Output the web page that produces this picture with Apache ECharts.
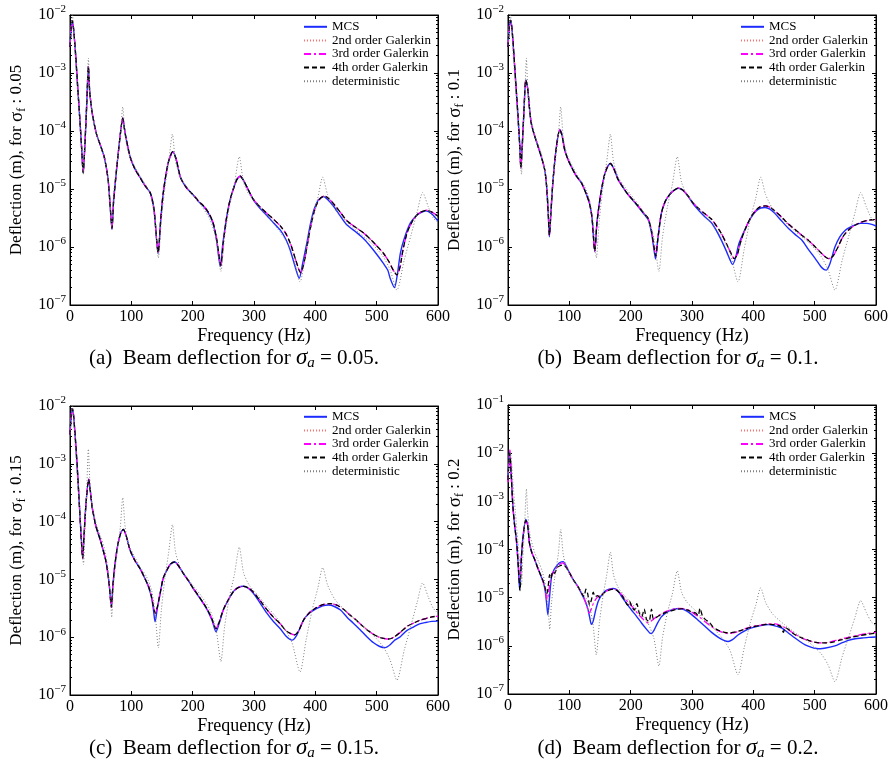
<!DOCTYPE html>
<html>
<head>
<meta charset="utf-8">
<script src="https://cdn.jsdelivr.net/npm/echarts@6/dist/echarts.min.js"></script>
<style>html,body{margin:0;padding:0;background:#fff;}#c{width:893px;height:770px;}</style>
</head>
<body>
<div id="c"></div>
<script>
// ---------- DATA (frequency Hz, deflection m) ----------
const seriesNames = ['MCS', '2nd order Galerkin', '3rd order Galerkin', '4th order Galerkin', 'deterministic'];
const xTicks = [0, 100, 200, 300, 400, 500, 600];
const sigmaF = ['0.05', '0.1', '0.15', '0.2'];
const captionLetters = ['(a)', '(b)', '(c)', '(d)'];

const detAll = [[0,3e-3],[2,7e-3],[4,1.0e-2],[6,6e-3],[8,2.5e-3],[12,6e-4],[16,1.5e-4],[19,5e-5],[22,1.8e-5],[24,6e-5],[27,3e-4],[30,1.8e-3],[32,6e-4],[36,2e-4],[43,9e-5],[50,5.5e-5],[56,3.5e-5],[62,1.5e-5],[66,5e-6],[68,2.2e-6],[71,8e-6],[76,2.5e-5],[82,8e-5],[86,2.6e-4],[90,8e-5],[96,4e-5],[105,2.5e-5],[115,1.6e-5],[125,1.1e-5],[133,6.5e-6],[139,2.5e-6],[144,6.5e-7],[149,3e-6],[155,1.1e-5],[161,3e-5],[167,8.8e-5],[172,3e-5],[180,1.6e-5],[190,1.1e-5],[200,8e-6],[215,5e-6],[228,3e-6],[238,1.4e-6],[246,3.8e-7],[252,1.5e-6],[260,5e-6],[268,1.2e-5],[276,3.6e-5],[283,1.3e-5],[292,8e-6],[305,5.5e-6],[320,3.5e-6],[335,2.3e-6],[350,1.4e-6],[362,8e-7],[375,2.5e-7],[385,9e-7],[395,3e-6],[404,7e-6],[412,1.6e-5],[420,8e-6],[432,4.5e-6],[450,2.8e-6],[470,1.8e-6],[490,1.2e-6],[510,7e-7],[522,4e-7],[533,1.8e-7],[545,6e-7],[556,1.6e-6],[566,4e-6],[575,8.7e-6],[584,5e-6],[592,3.2e-6],[600,2.6e-6]];

const mcsA = [[0,2.8e-3],[2,6e-3],[4,7.7e-3],[6,5.5e-3],[9,2.2e-3],[12,7e-4],[16,1.6e-4],[19,5e-5],[21.5,1.9e-5],[24,5e-5],[27,2.5e-4],[30,1.3e-3],[32,5e-4],[36,2.1e-4],[43,9e-5],[50,5.5e-5],[56,3.5e-5],[62,1.5e-5],[65,6e-6],[68.5,2e-6],[71,6e-6],[76,2.2e-5],[81,7e-5],[86,1.66e-4],[90,9e-5],[98,3.6e-5],[106,2.2e-5],[114,1.6e-5],[122,1.15e-5],[131,8.5e-6],[137,4.4e-6],[143.6,7.7e-7],[148,3e-6],[152,8.5e-6],[160,2.8e-5],[167.6,4.4e-5],[173,3.3e-5],[180,1.6e-5],[190,1.05e-5],[201,7.9e-6],[210,6e-6],[218,5e-6],[226,3.8e-6],[233,2.6e-6],[239,1.3e-6],[245,4.6e-7],[249,1.1e-6],[255.7,3.4e-6],[261,6.5e-6],[267,1.05e-5],[272,1.45e-5],[277.5,1.66e-5],[283,1.4e-5],[290,1e-5],[299,6.5e-6],[310,4.6e-6],[321,3.5e-6],[332,2.6e-6],[343,1.95e-6],[352,1.35e-6],[359,8.9e-7],[366,5e-7],[373.8,2.9e-7],[379,5e-7],[386,1.15e-6],[392,2.5e-6],[398,4.5e-6],[405,6.5e-6],[413.5,7.4e-6],[420,6.6e-6],[430,5e-6],[440,3.5e-6],[450,2.5e-6],[468,1.75e-6],[480,1.35e-6],[490,1.02e-6],[500,7.5e-7],[511,5.2e-7],[518,4e-7],[522,2.9e-7],[529,2e-7],[534,3.5e-7],[538.6,7.8e-7],[545,1.4e-6],[555,2.6e-6],[565,3.5e-6],[572,3.9e-6],[580,4.2e-6],[590,3.7e-6],[600,2.8e-6]];
const galA = [[0,2.8e-3],[2,6.2e-3],[4,8e-3],[6,5.5e-3],[9,2.2e-3],[12,7e-4],[16,1.6e-4],[19,5e-5],[21.5,1.9e-5],[24,5e-5],[27,2.5e-4],[30,1.3e-3],[32,5e-4],[36,2.1e-4],[43,9e-5],[50,5.5e-5],[56,3.5e-5],[62,1.5e-5],[65,6e-6],[68.5,2.1e-6],[71,6e-6],[76,2.2e-5],[81,7e-5],[86,1.66e-4],[90,9e-5],[98,3.6e-5],[106,2.2e-5],[114,1.6e-5],[122,1.15e-5],[131,8.5e-6],[137,4.4e-6],[143.8,8e-7],[148,3e-6],[152,8.5e-6],[160,2.8e-5],[167.6,4.4e-5],[173,3.3e-5],[180,1.6e-5],[190,1.05e-5],[201,7.9e-6],[210,6.1e-6],[218,5.1e-6],[226,3.9e-6],[233,2.7e-6],[239,1.4e-6],[246,4.8e-7],[250,1.2e-6],[255.7,3.4e-6],[261,6.5e-6],[267,1.05e-5],[272,1.45e-5],[277.5,1.66e-5],[283,1.4e-5],[290,1e-5],[299,6.6e-6],[310,4.9e-6],[321,3.8e-6],[332,3e-6],[343,2.3e-6],[352,1.7e-6],[360,1.1e-6],[368,6e-7],[376,3.6e-7],[381,5e-7],[387,1.1e-6],[393,2.4e-6],[399,4.4e-6],[406,6.5e-6],[415,7.6e-6],[422,6.8e-6],[432,5.2e-6],[442,3.8e-6],[452,2.8e-6],[468,2.1e-6],[480,1.7e-6],[490,1.35e-6],[500,1.05e-6],[511,7.8e-7],[520,5.6e-7],[527,4e-7],[533,3.3e-7],[538,4.5e-7],[543,9e-7],[550,1.8e-6],[560,3e-6],[570,3.9e-6],[582,4.3e-6],[590,4e-6],[600,3.4e-6]];

const mcsB = [[0,2.8e-3],[2,6e-3],[4.5,8.1e-3],[7,5e-3],[10,1.8e-3],[13,6e-4],[16,2e-4],[19,6e-5],[21,2.3e-5],[23,5e-5],[26,2.2e-4],[29,7.6e-4],[32,5.5e-4],[35,2.5e-4],[38,1.35e-4],[43,8.5e-5],[49,5.4e-5],[55,3.4e-5],[60,2.1e-5],[63,1.1e-5],[65.5,4e-6],[67.5,1.5e-6],[70,4e-6],[73.5,1.45e-5],[79,5.4e-5],[84.4,1.05e-4],[88,8.5e-5],[92.5,4.7e-5],[98,3.2e-5],[103,2.45e-5],[111,1.7e-5],[120,1.26e-5],[128,8e-6],[133,5.6e-6],[137,3.2e-6],[141.5,8.3e-7],[145,2.6e-6],[149.7,6.5e-6],[154,1.2e-5],[158,1.85e-5],[163,2.5e-5],[167,2.75e-5],[172,2.3e-5],[179.6,1.45e-5],[188,1.05e-5],[196,7.9e-6],[204,6.3e-6],[212,5e-6],[220,3.9e-6],[228.6,2.95e-6],[234,1.75e-6],[238,9e-7],[240.6,6.2e-7],[244,1.3e-6],[250,3.8e-6],[256,6e-6],[261,7.4e-6],[268,9e-6],[277.6,1.03e-5],[285,9.5e-6],[294,7.4e-6],[302,5.5e-6],[310,4.4e-6],[320,3.4e-6],[332,2.6e-6],[340,1.9e-6],[348,1.3e-6],[356,8.5e-7],[362,6e-7],[366,5e-7],[371,6.5e-7],[376,1.1e-6],[381,1.5e-6],[389,2.3e-6],[397,3.3e-6],[405,4.2e-6],[412,4.7e-6],[419,4.8e-6],[427,4.5e-6],[435,3.8e-6],[445,2.9e-6],[457,2.1e-6],[468,1.65e-6],[479,1.32e-6],[490,9e-7],[501,6.3e-7],[510,4.6e-7],[515,4.1e-7],[519,4e-7],[525,5.2e-7],[533,1e-6],[541,1.5e-6],[550,1.95e-6],[558,2.2e-6],[566,2.4e-6],[575,2.55e-6],[585,2.55e-6],[593,2.45e-6],[600,2.3e-6]];
const galB = [[0,2.8e-3],[2,6e-3],[4.5,8.1e-3],[7,5e-3],[10,1.8e-3],[13,6e-4],[16,2e-4],[19,6e-5],[21,2.3e-5],[23,5e-5],[26,2.2e-4],[29,7.6e-4],[32,5.5e-4],[35,2.5e-4],[38,1.35e-4],[43,8.5e-5],[49,5.4e-5],[55,3.4e-5],[60,2.1e-5],[63,1.1e-5],[65.5,4e-6],[67.5,1.6e-6],[70,4e-6],[73.5,1.45e-5],[79,5.4e-5],[84.4,1.05e-4],[88,8.5e-5],[92.5,4.7e-5],[98,3.2e-5],[103,2.45e-5],[111,1.7e-5],[120,1.26e-5],[128,8e-6],[133,5.6e-6],[137,3.2e-6],[141.5,8.5e-7],[145,2.6e-6],[149.7,6.5e-6],[154,1.2e-5],[158,1.85e-5],[163,2.5e-5],[167,2.75e-5],[172,2.3e-5],[179.6,1.45e-5],[188,1.05e-5],[196,8e-6],[204,6.4e-6],[212,5.1e-6],[220,4e-6],[228.6,3.1e-6],[234,1.9e-6],[238,1e-6],[241,7e-7],[244,1.3e-6],[250,3.8e-6],[256,6e-6],[261,7.4e-6],[268,9e-6],[277.6,1.04e-5],[285,9.6e-6],[294,7.5e-6],[302,5.7e-6],[310,4.7e-6],[320,3.8e-6],[332,3e-6],[340,2.3e-6],[348,1.7e-6],[356,1.15e-6],[363,8e-7],[369,6.3e-7],[374,7.5e-7],[380,1.3e-6],[389,2.3e-6],[397,3.4e-6],[405,4.4e-6],[412,5e-6],[420,5.1e-6],[428,4.8e-6],[436,4.1e-6],[446,3.3e-6],[457,2.5e-6],[468,2e-6],[479,1.6e-6],[490,1.3e-6],[501,1e-6],[510,8e-7],[517,6.8e-7],[523,6.3e-7],[530,7e-7],[538,1e-6],[546,1.5e-6],[555,1.95e-6],[565,2.35e-6],[575,2.65e-6],[585,2.85e-6],[593,2.95e-6],[600,2.95e-6]];

const mcsC = [[0,3.2e-3],[2,7e-3],[4,9e-3],[6,6.5e-3],[9,2.5e-3],[12,8e-4],[15,2.2e-4],[18,6e-5],[20.7,2.3e-5],[23,6e-5],[26,2e-4],[30.5,5.4e-4],[33,3.5e-4],[36,1.8e-4],[38,1.38e-4],[42,8.5e-5],[46,6.2e-5],[50,4.6e-5],[54,3.2e-5],[58,2.2e-5],[61,1.45e-5],[64,8e-6],[67.5,3.4e-6],[70,8e-6],[73.5,1.9e-5],[78,4e-5],[83,6.5e-5],[87,7.3e-5],[92,5.5e-5],[98,3.2e-5],[106,2.1e-5],[114,1.55e-5],[121,1.1e-5],[128,7.4e-6],[133,4.8e-6],[136,3e-6],[138.7,1.85e-6],[142,3e-6],[147,5.7e-6],[152,1.05e-5],[158,1.45e-5],[164,1.85e-5],[171,2e-5],[178,1.65e-5],[185,1.26e-5],[193,9.5e-6],[201,6.9e-6],[209,5.2e-6],[217.6,3.8e-6],[225,2.8e-6],[232,1.9e-6],[238,1.24e-6],[243,1.7e-6],[250,2.95e-6],[258,4.4e-6],[266.6,6.2e-6],[274,7.2e-6],[283,7.6e-6],[291,7e-6],[299,5.75e-6],[310,3.9e-6],[321,2.6e-6],[332,1.85e-6],[342.8,1.4e-6],[352,1.05e-6],[362,8.9e-7],[370,1.1e-6],[381,2e-6],[392,2.7e-6],[402.6,3.15e-6],[412,3.5e-6],[421.6,3.6e-6],[431,3.4e-6],[441,2.95e-6],[452,2.2e-6],[462,1.75e-6],[473,1.35e-6],[484,1.02e-6],[495,8e-7],[505,6.9e-7],[514,6.6e-7],[522,7.4e-7],[530,9e-7],[538.6,1.02e-6],[549,1.3e-6],[560,1.5e-6],[570,1.7e-6],[580,1.8e-6],[590,1.88e-6],[600,1.9e-6]];
const galC = [[0,3.2e-3],[2,7e-3],[4,9e-3],[6,6.5e-3],[9,2.5e-3],[12,8e-4],[15,2.2e-4],[18,6e-5],[20.7,2.3e-5],[23,6e-5],[26,2e-4],[30.5,5.4e-4],[33,3.5e-4],[36,1.8e-4],[38,1.38e-4],[42,8.5e-5],[46,6.2e-5],[50,4.6e-5],[54,3.2e-5],[58,2.2e-5],[61,1.45e-5],[64,8e-6],[67.5,3.3e-6],[70,8e-6],[73.5,1.9e-5],[78,4e-5],[83,6.5e-5],[87,7.3e-5],[92,5.5e-5],[98,3.2e-5],[106,2.1e-5],[114,1.55e-5],[121,1.1e-5],[128,7.6e-6],[133,5e-6],[136,3.4e-6],[139,2.6e-6],[142,3.2e-6],[147,5.8e-6],[152,1.05e-5],[158,1.45e-5],[164,1.85e-5],[171,2e-5],[178,1.65e-5],[185,1.26e-5],[193,9.5e-6],[201,7e-6],[209,5.3e-6],[217.6,3.9e-6],[225,2.9e-6],[232,2e-6],[238,1.4e-6],[243,1.8e-6],[250,3e-6],[258,4.4e-6],[266.6,6.2e-6],[274,7.2e-6],[283,7.6e-6],[291,7.1e-6],[299,6e-6],[310,4.3e-6],[321,3e-6],[332,2.2e-6],[342.8,1.7e-6],[352,1.3e-6],[360,1.15e-6],[366,1.1e-6],[373,1.3e-6],[381,2e-6],[392,2.75e-6],[402.6,3.3e-6],[414,3.7e-6],[425,3.8e-6],[435,3.6e-6],[445,3.1e-6],[455,2.5e-6],[466,2e-6],[476,1.6e-6],[486,1.3e-6],[496,1.1e-6],[506,9.8e-7],[514,9.4e-7],[520,9.3e-7],[528,1e-6],[538,1.2e-6],[550,1.55e-6],[560,1.75e-6],[570,1.95e-6],[580,2.1e-6],[590,2.25e-6],[600,2.3e-6]];

const mcsD = [[0,2.8e-3],[1.5,7e-3],[2.7,1.07e-2],[5,4e-3],[8,7.8e-4],[11,3e-4],[13.6,1.6e-4],[16.5,5e-5],[19,1.45e-5],[21.5,6e-5],[24.5,1.85e-4],[29,4.2e-4],[32,3.3e-4],[35,1.35e-4],[39,8.5e-5],[43.5,6.2e-5],[49,4e-5],[54,2.75e-5],[58,2e-5],[61,1.3e-5],[63,7.5e-6],[65,4.4e-6],[67,8e-6],[71,2.75e-5],[75,3.8e-5],[79,4.5e-5],[84,5.3e-5],[90,5.6e-5],[95,4.5e-5],[100.7,3.2e-5],[107,2.3e-5],[114,1.7e-5],[120,1.2e-5],[125,9e-6],[130,6e-6],[133,4e-6],[136,2.8e-6],[139,3.3e-6],[143,5.5e-6],[147,8.3e-6],[152,1.1e-5],[158,1.35e-5],[165,1.5e-5],[171.5,1.55e-5],[178,1.45e-5],[185,1.07e-5],[193,7.7e-6],[201,5.6e-6],[209,4.2e-6],[218,2.95e-6],[226,2.2e-6],[231,1.85e-6],[234,1.8e-6],[238,2.1e-6],[244,3e-6],[250,4e-6],[258,4.9e-6],[266.7,5.6e-6],[275,5.9e-6],[283,5.9e-6],[291,5.3e-6],[299,4.5e-6],[310,3.4e-6],[321,2.55e-6],[332,1.9e-6],[343,1.5e-6],[352,1.3e-6],[359,1.23e-6],[366,1.35e-6],[375.6,1.7e-6],[386,2.05e-6],[397,2.35e-6],[410,2.6e-6],[424.6,2.75e-6],[435,2.6e-6],[446,2.35e-6],[457,1.85e-6],[468,1.45e-6],[477,1.2e-6],[484.5,1.05e-6],[495,9.3e-7],[503,8.8e-7],[509,8.7e-7],[518,9e-7],[533,1e-6],[544,1.15e-6],[555,1.3e-6],[566,1.4e-6],[577,1.45e-6],[588,1.5e-6],[600,1.52e-6]];
const gal3D = [[0,2.5e-3],[1.5,7e-3],[3,1.17e-2],[5,4.5e-3],[8,8e-4],[11,3e-4],[14,1.4e-4],[17,4.5e-5],[19.5,2.3e-5],[22,7e-5],[25,2e-4],[29,4.1e-4],[32,3.2e-4],[35,1.35e-4],[39,8.5e-5],[43.5,6.2e-5],[49,4e-5],[54,2.8e-5],[58,2e-5],[61,1.35e-5],[63.5,9e-6],[66,1.2e-5],[69,2.3e-5],[73,3.2e-5],[78,4e-5],[84,4.9e-5],[89,5.3e-5],[95,4.4e-5],[100.7,3.2e-5],[107,2.3e-5],[114,1.7e-5],[120,1.25e-5],[125,9e-6],[129,6.5e-6],[132,4.8e-6],[135,5.5e-6],[139,7.5e-6],[145,1e-5],[152,1.15e-5],[160,1.35e-5],[167,1.5e-5],[174,1.5e-5],[180,1.35e-5],[188,1.05e-5],[196,8e-6],[204,6.2e-6],[212,4.6e-6],[220,3.6e-6],[228.6,3e-6],[235,3.4e-6],[242,4e-6],[250,4.6e-6],[258,5.2e-6],[268,5.7e-6],[278,6e-6],[287,5.9e-6],[296,5.4e-6],[305,4.5e-6],[313,3.9e-6],[321,3.2e-6],[330,2.6e-6],[340,2.15e-6],[350,1.9e-6],[358,1.8e-6],[366,1.85e-6],[376,2e-6],[388,2.3e-6],[400,2.55e-6],[412,2.7e-6],[424,2.85e-6],[436,2.85e-6],[446,2.6e-6],[455,2.25e-6],[466,1.8e-6],[477,1.5e-6],[488,1.3e-6],[498,1.2e-6],[507,1.15e-6],[514,1.15e-6],[525,1.2e-6],[540,1.35e-6],[555,1.5e-6],[570,1.65e-6],[585,1.8e-6],[600,1.9e-6]];
const gal4D = [[0,2.8e-3],[1.5,7e-3],[3,1e-2],[5,4e-3],[8,7.8e-4],[11,3e-4],[14,1.5e-4],[17,4e-5],[19.5,1.4e-5],[22,7e-5],[25,2e-4],[29,4e-4],[32,3.2e-4],[35,1.35e-4],[39,8.5e-5],[43.5,6.2e-5],[49,4e-5],[54,2.8e-5],[58,2.1e-5],[61,1.5e-5],[63,1.2e-5],[65,1.5e-5],[68,3e-5],[70,2.5e-5],[73,3.5e-5],[76,3.2e-5],[80,4.2e-5],[85,4.6e-5],[90,4.8e-5],[95,4.2e-5],[100.7,3.2e-5],[107,2.3e-5],[114,1.7e-5],[120,1.25e-5],[124,1.05e-5],[127,1.5e-5],[130,1.2e-5],[133,7e-6],[136,9e-6],[139,1.3e-5],[142,1.05e-5],[146,1.1e-5],[150,1e-5],[155,1.2e-5],[160,1.35e-5],[166,1.45e-5],[172,1.5e-5],[178,1.4e-5],[185,1.15e-5],[190,9e-6],[195,7e-6],[198,8.5e-6],[202,6.5e-6],[206,5.5e-6],[210,7.5e-6],[214,4.8e-6],[218,4e-6],[222,5.8e-6],[226,3.5e-6],[230,3.2e-6],[234,5.8e-6],[237,3.6e-6],[241,3.8e-6],[246,4.2e-6],[252,4.6e-6],[258,5e-6],[266,5.3e-6],[275,5.7e-6],[285,5.9e-6],[293,5.5e-6],[300,5e-6],[306,4.8e-6],[310,4.2e-6],[313,6e-6],[317,4.2e-6],[322,3.5e-6],[328,3.1e-6],[334,2.5e-6],[340,2.2e-6],[347,2e-6],[353,1.9e-6],[360,1.85e-6],[366,1.9e-6],[375,2e-6],[386,2.2e-6],[397,2.45e-6],[410,2.65e-6],[424,2.8e-6],[435,2.75e-6],[445,2.5e-6],[449,1.9e-6],[452,2.4e-6],[457,2.2e-6],[468,1.7e-6],[480,1.45e-6],[490,1.3e-6],[500,1.2e-6],[510,1.15e-6],[518,1.15e-6],[530,1.2e-6],[545,1.35e-6],[560,1.5e-6],[575,1.65e-6],[588,1.75e-6],[600,1.85e-6]];

// per panel: [MCS, 2nd, 3rd, 4th, deterministic]
const panelData = [
  [mcsA, galA, galA, galA, detAll],
  [mcsB, galB, galB, galB, detAll],
  [mcsC, galC, galC, galC, detAll],
  [mcsD, gal3D, gal3D, gal4D, detAll]
];
const yMaxExp = [-2, -2, -2, -1];
const yMinExp = -7;

// ---------- LAYOUT / STYLE ----------
const FONT = 'Liberation Serif';
const grids = [
  {left: 70, top: 15, width: 368, height: 290},
  {left: 508, top: 15, width: 368, height: 290},
  {left: 70, top: 406, width: 368, height: 289},
  {left: 508, top: 405, width: 368, height: 289}
];
const lineStyles = [
  {color: '#1c2cff', width: 1.4, type: 'solid'},
  {color: '#ff7070', width: 1, type: [1, 2]},
  {color: '#ff00ff', width: 1.3, type: [7, 3, 2, 3]},
  {color: '#000000', width: 1.3, type: [5, 3]},
  {color: '#808080', width: 1, type: [1, 2]}
];
const legendPos = [
  {left: 303, top: 20}, {left: 740, top: 20}, {left: 303, top: 410}, {left: 740, top: 410}
];
const captionPos = [[234, 358], [678, 358], [234, 748], [678, 748]];

function yLabel(v) {
  const e = Math.round(Math.log10(v));
  return '{b|10}{s|\u2212' + (-e) + '}';
}
const tickRich = {
  b: {fontFamily: FONT, fontSize: 16, color: '#000'},
  s: {fontFamily: FONT, fontSize: 11, color: '#000', padding: [0, 0, 11, 0]}
};

const option = {
  backgroundColor: '#fff',
  animation: false,
  grid: grids.map(g => Object.assign({show: true, borderColor: '#000', borderWidth: 1, containLabel: false}, g)),
  xAxis: [], yAxis: [], series: [], legend: [], graphic: []
};

grids.forEach((g, i) => {
  option.xAxis.push({
    type: 'value', gridIndex: i, min: xTicks[0], max: xTicks[xTicks.length - 1], interval: 100,
    position: 'bottom',
    name: 'Frequency (Hz)', nameLocation: 'middle', nameGap: 22,
    nameTextStyle: {fontFamily: FONT, fontSize: 18, color: '#000'},
    axisLine: {show: true, onZero: false, lineStyle: {color: '#000', width: 1}},
    axisTick: {show: true, inside: true, length: 4, lineStyle: {color: '#000'}},
    axisLabel: {fontFamily: FONT, fontSize: 16, color: '#000', margin: 4},
    splitLine: {show: false}
  });
  option.xAxis.push({
    type: 'value', gridIndex: i, min: 0, max: 600, interval: 100, position: 'top',
    axisLine: {show: true, onZero: false, lineStyle: {color: '#000'}},
    axisTick: {show: true, inside: true, length: 4, lineStyle: {color: '#000'}},
    axisLabel: {show: false}, splitLine: {show: false}
  });
  const ymax = Math.pow(10, yMaxExp[i]);
  const ymin = Math.pow(10, yMinExp);
  const nd = yMaxExp[i] - yMinExp;
  const minorTick = {show: true, splitNumber: 9, length: 2, lineStyle: {color: '#000', width: 1}};
  option.yAxis.push({
    type: 'log', logBase: 10, gridIndex: i, min: ymin, max: ymax, splitNumber: nd, interval: 1,
    position: 'left',
    name: 'Deflection (m), for {g|\u03c3}{f|f} : ' + sigmaF[i],
    nameLocation: 'middle', nameGap: 42, nameRotate: 90,
    nameTextStyle: {fontFamily: FONT, fontSize: 17, color: '#000',
      rich: {
        g: {fontFamily: FONT, fontSize: 19, color: '#000'},
        f: {fontFamily: FONT, fontSize: 12, color: '#000', padding: [10, 0, 0, 0]}
      }},
    axisLine: {show: true, onZero: false, lineStyle: {color: '#000'}},
    axisTick: {show: true, inside: true, length: 4, lineStyle: {color: '#000'}},
    minorTick: minorTick,
    axisLabel: {formatter: yLabel, rich: tickRich, margin: 4, showMinLabel: true, showMaxLabel: true},
    splitLine: {show: false}, minorSplitLine: {show: false}
  });
  option.yAxis.push({
    type: 'log', logBase: 10, gridIndex: i, min: ymin, max: ymax, splitNumber: nd, interval: 1,
    position: 'right',
    axisLine: {show: true, onZero: false, lineStyle: {color: '#000'}},
    axisTick: {show: true, inside: true, length: 4, lineStyle: {color: '#000'}},
    minorTick: minorTick,
    axisLabel: {show: false}, splitLine: {show: false}, minorSplitLine: {show: false}
  });
  panelData[i].forEach((d, k) => {
    option.series.push({
      type: 'line', name: seriesNames[k], xAxisIndex: 2 * i, yAxisIndex: 2 * i,
      data: d, showSymbol: false, symbol: 'none', smooth: 0.25, clip: true,
      lineStyle: Object.assign({}, lineStyles[k]), itemStyle: {color: lineStyles[k].color},
      z: 2 + k
    });
  });
  option.legend.push({
    data: seriesNames, orient: 'vertical', left: legendPos[i].left, top: legendPos[i].top,
    itemWidth: 23, itemHeight: 10, itemGap: 0, selectedMode: false, padding: 0,
    itemStyle: {opacity: 0, borderWidth: 0},
    textStyle: {fontFamily: FONT, fontSize: 13, color: '#000', lineHeight: 13.6}
  });
  option.graphic.push({
    type: 'text', x: captionPos[i][0], y: captionPos[i][1],
    style: {
      text: captionLetters[i] + '  Beam deflection for {i|\u03c3}{a|a} = ' + sigmaF[i] + '.',
      fontFamily: FONT, fontSize: 21, fill: '#000', align: 'center', verticalAlign: 'middle',
      rich: {
        i: {fontFamily: FONT, fontSize: 23, fontStyle: 'italic', fill: '#000'},
        a: {fontFamily: FONT, fontSize: 15, fontStyle: 'italic', fill: '#000', padding: [10, 0, 0, 0]}
      }
    }
  });
});

const chart = echarts.init(document.getElementById('c'), null, {renderer: 'canvas'});
chart.setOption(option);
</script>
</body>
</html>
